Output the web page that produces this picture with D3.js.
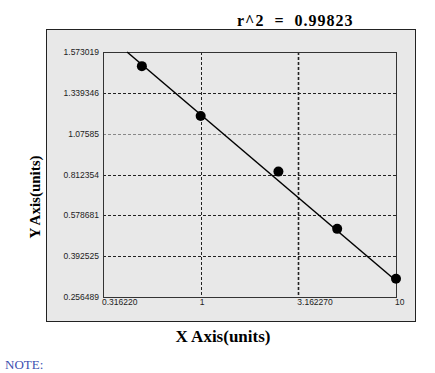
<!DOCTYPE html>
<html>
<head>
<meta charset="utf-8">
<script src="https://cdn.jsdelivr.net/npm/d3@7"></script>
<style>
  body { margin: 0; background: #fff; }
  svg { display: block; }
</style>
</head>
<body>
<svg id="chart" width="435" height="373"></svg>
<script>
// standard curve values
const xValues = [0.5, 1, 2.5, 5, 10];
const yValues = [1.492, 1.190, 0.831, 0.517, 0.317];

// fitted line end points
const fitX = [0.42, 10];
const fitY = [1.573019, 0.3105];

// tick values and their labels
const xTicks = [0.316228, 1, 3.16227, 10];
const xTickLabels = ["0.316220", "1", "3.162270", "10"];
const yTicks = [0.256489, 0.392525, 0.578681, 0.812354, 1.07585, 1.339346, 1.573019];
const yTickLabels = ["0.256489", "0.392525", "0.578681", "0.812354", "1.07585", "1.339346", "1.573019"];

const rSquared = "r^2  =  0.99823";

const svg = d3.select("#chart");

// outer grey panel
svg.append("rect")
    .attr("x", 46.5).attr("y", 29.5)
    .attr("width", 369).attr("height", 292)
    .attr("fill", "#e8e8e8")
    .attr("stroke", "#222");

const plot = { left: 103, right: 396, top: 52, bottom: 297 };

const x = d3.scaleLog()
    .domain([0.316228, 10])
    .range([plot.left, plot.right]);

// the y axis is evenly spaced between its (uneven) tick values
const yRange = yTicks.map((d, i) => plot.bottom - i * (plot.bottom - plot.top) / (yTicks.length - 1));
const y = d3.scaleLinear()
    .domain(yTicks)
    .range(yRange);

// grid lines
svg.append("g")
    .selectAll("line")
    .data(yTicks.slice(1, -1))
    .enter()
    .append("line")
    .attr("x1", plot.left).attr("x2", plot.right)
    .attr("y1", d => Math.round(y(d)) + 0.5)
    .attr("y2", d => Math.round(y(d)) + 0.5)
    .attr("stroke", d => d === 1.07585 ? "#888" : "#222")
    .attr("stroke-dasharray", "3,2");

svg.append("g")
    .selectAll("line")
    .data(xTicks.slice(1, -1))
    .enter()
    .append("line")
    .attr("x1", d => Math.round(x(d)) + 0.5)
    .attr("x2", d => Math.round(x(d)) + 0.5)
    .attr("y1", plot.top).attr("y2", plot.bottom)
    .attr("stroke", "#222")
    .attr("stroke-width", (d, i) => i === 1 ? 1.6 : 1)
    .attr("stroke-dasharray", "3,2");

// plot frame
svg.append("rect")
    .attr("x", plot.left + 0.5).attr("y", plot.top + 0.5)
    .attr("width", plot.right - plot.left).attr("height", plot.bottom - plot.top)
    .attr("fill", "none")
    .attr("stroke", "#333");

// tick labels
svg.append("g")
    .selectAll("text")
    .data(yTicks)
    .enter()
    .append("text")
    .attr("x", plot.left - 4)
    .attr("y", d => y(d) + 3)
    .attr("text-anchor", "end")
    .style("font-family", "Liberation Sans, Arial, sans-serif")
    .style("font-size", "8.5px")
    .attr("fill", "#222")
    .text((d, i) => yTickLabels[i]);

svg.append("g")
    .selectAll("text")
    .data(xTicks)
    .enter()
    .append("text")
    .attr("x", d => x(d) - 1)
    .attr("y", plot.bottom + 8)
    .attr("text-anchor", "start")
    .style("font-family", "Liberation Sans, Arial, sans-serif")
    .style("font-size", "8.5px")
    .attr("fill", "#222")
    .text((d, i) => xTickLabels[i]);

// fitted line, clipped to the plot
svg.append("clipPath").attr("id", "clip")
    .append("rect")
    .attr("x", plot.left).attr("y", plot.top - 2)
    .attr("width", plot.right - plot.left + 2).attr("height", plot.bottom - plot.top + 2);

const line = d3.line()
    .x(d => x(d[0]))
    .y(d => y(d[1]));

svg.append("path")
    .datum(d3.zip(fitX, fitY))
    .attr("d", line)
    .attr("fill", "none")
    .attr("stroke", "#000")
    .attr("stroke-width", 1.5)
    .attr("clip-path", "url(#clip)");

// points
svg.append("g")
    .selectAll("circle")
    .data(d3.zip(xValues, yValues))
    .enter()
    .append("circle")
    .attr("cx", d => x(d[0]))
    .attr("cy", d => y(d[1]))
    .attr("r", 5)
    .attr("fill", "#000");

// titles
svg.append("text")
    .attr("x", 237).attr("y", 26)
    .attr("text-anchor", "start")
    .style("font-family", "Liberation Serif, Times New Roman, serif")
    .style("font-weight", "bold")
    .style("font-size", "16px")
    .style("letter-spacing", "1px")
    .style("white-space", "pre")
    .text(rSquared);

svg.append("text")
    .attr("x", 223).attr("y", 342)
    .attr("text-anchor", "middle")
    .style("font-family", "Liberation Serif, Times New Roman, serif")
    .style("font-weight", "bold")
    .style("font-size", "17px")
    .text("X Axis(units)");

svg.append("text")
    .attr("transform", "translate(40,197) rotate(-90)")
    .attr("text-anchor", "middle")
    .style("font-family", "Liberation Serif, Times New Roman, serif")
    .style("font-weight", "bold")
    .style("font-size", "15px")
    .text("Y Axis(units)");

svg.append("text")
    .attr("x", 5).attr("y", 369)
    .style("font-family", "Liberation Serif, Times New Roman, serif")
    .style("font-size", "13px")
    .attr("fill", "#3b4fb0")
    .text("NOTE:");
</script>
</body>
</html>
